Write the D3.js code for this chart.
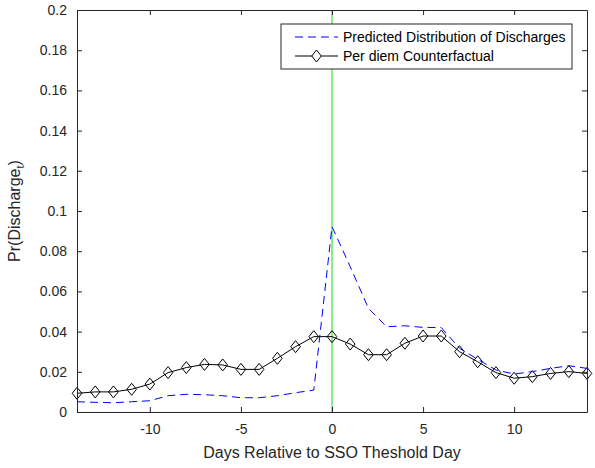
<!DOCTYPE html>
<html><head><meta charset="utf-8">
<script src="https://cdn.jsdelivr.net/npm/d3@7"></script>
<style>body{margin:0;background:#fff;} text{font-family:"Liberation Sans",Arial,sans-serif;}</style>
</head><body>
<svg id="c" width="595" height="468"></svg>
<script>
const days = d3.range(-14, 15);
const predicted = [0.0051,0.0048,0.0046,0.0051,0.0056,0.0081,0.0088,0.0086,0.0081,0.0071,0.0071,0.0081,0.0096,0.0109,
  0.0922,0.0723,0.0516,0.0424,0.0429,0.0421,0.0420,0.0317,0.0262,0.0209,0.0189,0.0201,0.0217,0.0230,0.0217];
const counterfactual = [0.0093,0.0100,0.0100,0.0113,0.0139,0.0196,0.0221,0.0237,0.0234,0.0212,0.0212,0.0267,0.0325,0.0375,
  0.0375,0.0338,0.0285,0.0285,0.0342,0.0378,0.0378,0.0300,0.0250,0.0196,0.0168,0.0176,0.0192,0.0201,0.0192];
const xTicks = [-10,-5,0,5,10];
const yTicks = [0,0.02,0.04,0.06,0.08,0.1,0.12,0.14,0.16,0.18,0.2];
const legendLabels = ["Predicted Distribution of Discharges","Per diem Counterfactual"];

const svg = d3.select("#c");
const L=77, R=587, T=10, B=412;
const x = d3.scaleLinear().domain([-14,14]).range([L,R]);
const y = d3.scaleLinear().domain([0,0.2]).range([B,T]);
const axisColor="#262626";

svg.append("line").attr("x1",x(0)).attr("x2",x(0)).attr("y1",y(0)).attr("y2",y(0.2))
  .attr("stroke","#3ee03e").attr("stroke-width",1.2);

const line = d3.line().x((d,i)=>x(days[i])).y(d=>y(d));
svg.append("path").datum(counterfactual).attr("d",line).attr("fill","none").attr("stroke","#000").attr("stroke-width",1);
const diamond = (cx,cy)=>`M${cx},${cy-6}L${cx+4.8},${cy}L${cx},${cy+6}L${cx-4.8},${cy}Z`;
svg.append("g").selectAll("path").data(counterfactual).join("path")
  .attr("d",(d,i)=>diamond(x(days[i]),y(d))).attr("fill","none").attr("stroke","#000").attr("stroke-width",1);
svg.append("path").datum(predicted).attr("d",line).attr("fill","none").attr("stroke","#0000ff")
  .attr("stroke-width",1).attr("stroke-dasharray","8,5");

const fmt = d=> String(+d.toFixed(4));
const gx = svg.append("g").attr("transform",`translate(0,${B})`)
  .call(d3.axisBottom(x).tickValues(xTicks).tickSizeInner(-5).tickSizeOuter(0).tickPadding(12).tickFormat(fmt));
const gy = svg.append("g").attr("transform",`translate(${L},0)`)
  .call(d3.axisLeft(y).tickValues(yTicks).tickSizeInner(-5).tickSizeOuter(0).tickPadding(10).tickFormat(fmt));
const gx2 = svg.append("g").attr("transform",`translate(0,${T})`)
  .call(d3.axisTop(x).tickValues(xTicks).tickSizeInner(-5).tickSizeOuter(0).tickFormat(""));
const gy2 = svg.append("g").attr("transform",`translate(${R},0)`)
  .call(d3.axisRight(y).tickValues(yTicks).tickSizeInner(-5).tickSizeOuter(0).tickFormat(""));
[gx,gy,gx2,gy2].forEach(g=>{
  g.selectAll("path").attr("stroke",axisColor);
  g.selectAll("line").attr("stroke",axisColor);
  g.selectAll("text").attr("fill",axisColor).style("font-size","14px").style("font-family","Liberation Sans, Arial, sans-serif");
});

svg.append("text").attr("x",(L+R)/2).attr("y",458).attr("text-anchor","middle")
  .attr("fill",axisColor).style("font-size","16px").text("Days Relative to SSO Theshold Day");
const yl = svg.append("text").attr("transform",`translate(20,${(T+B)/2}) rotate(-90)`).attr("text-anchor","middle")
  .attr("fill",axisColor).style("font-size","16px");
yl.append("tspan").text("Pr(Discharge");
yl.append("tspan").attr("dy",4).style("font-size","11px").text("t");
yl.append("tspan").attr("dy",-4).text(")");

const lg = svg.append("g");
lg.append("rect").attr("x",281).attr("y",24).attr("width",291).attr("height",45).attr("fill","#fff").attr("stroke",axisColor).attr("stroke-width",1);
lg.append("line").attr("x1",295).attr("x2",338).attr("y1",37).attr("y2",37).attr("stroke","#0000ff").attr("stroke-dasharray","8,5");
lg.append("line").attr("x1",295).attr("x2",338).attr("y1",56).attr("y2",56).attr("stroke","#000");
lg.append("path").attr("d",diamond(316.5,56)).attr("fill","#fff").attr("stroke","#000");
legendLabels.forEach((t,i)=>{
  lg.append("text").attr("x",343).attr("y",37+i*19).attr("dy","0.35em").attr("fill","#000").style("font-size","14px").text(t);
});
</script>
</body></html>
